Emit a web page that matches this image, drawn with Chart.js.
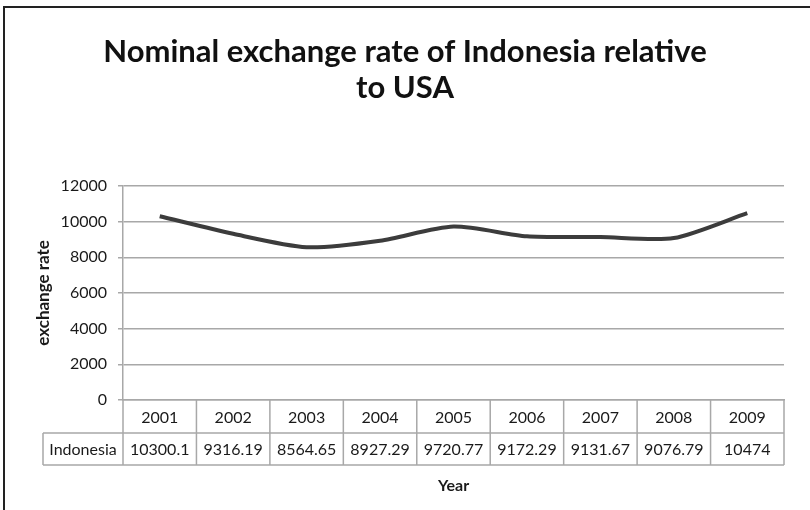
<!DOCTYPE html>
<html>
<head>
<meta charset="utf-8">
<script src="https://cdn.jsdelivr.net/npm/chart.js"></script>
<style>
  html, body { margin: 0; padding: 0; background: #fff; }
  canvas { display: block; }
</style>
</head>
<body>
<canvas id="chart_rate" width="810" height="510"></canvas>
<script>
// data
const years = ['2001', '2002', '2003', '2004', '2005', '2006', '2007', '2008', '2009'];
const seriesName = 'Indonesia';
const indonesia = [10300.1, 9316.19, 8564.65, 8927.29, 9720.77, 9172.29, 9131.67, 9076.79, 10474];
const yMin = 0;
const yMax = 12000;
const yStep = 2000;

const titleLines = ['Nominal exchange rate of Indonesia relative', 'to USA'];
const tickFont = { family: 'Lato', size: 16 };
const gridColor = '#a8a8a8';
const textColor = '#1a1a1a';

// white page with the dark frame on the left and top edge
const frame = {
  id: 'frame',
  beforeDraw(chart) {
    const ctx = chart.ctx;
    ctx.save();
    ctx.fillStyle = '#fff';
    ctx.fillRect(0, 0, chart.width, chart.height);
    ctx.strokeStyle = '#222';
    ctx.lineWidth = 2;
    ctx.beginPath();
    ctx.moveTo(4, chart.height);
    ctx.lineTo(4, 7);
    ctx.lineTo(chart.width, 7);
    ctx.stroke();
    ctx.restore();
  }
};

// Excel-style data table under the plot
const dataTable = {
  id: 'dataTable',
  afterDraw(chart) {
    const ctx = chart.ctx;
    const x = chart.scales.x;
    const area = chart.chartArea;
    const colW = (x.right - x.left) / years.length;
    const top = area.bottom;
    const row1 = top + 33;
    const row2 = row1 + 32;
    const labelLeft = 43;

    ctx.save();
    ctx.strokeStyle = gridColor;
    ctx.lineWidth = 1.5;
    ctx.beginPath();
    // horizontal rules
    ctx.moveTo(labelLeft, row1); ctx.lineTo(x.right, row1);
    ctx.moveTo(labelLeft, row2); ctx.lineTo(x.right, row2);
    // vertical rules
    ctx.moveTo(labelLeft, row1); ctx.lineTo(labelLeft, row2);
    for (let i = 0; i <= years.length; i++) {
      const px = x.left + i * colW;
      ctx.moveTo(px, top); ctx.lineTo(px, row2);
    }
    ctx.stroke();

    ctx.fillStyle = textColor;
    ctx.font = `${tickFont.size}px ${tickFont.family}`;
    ctx.textAlign = 'center';
    ctx.textBaseline = 'middle';
    const midY = (row1 + row2) / 2 + 1;
    ctx.fillText(seriesName, (labelLeft + x.left) / 2, midY);
    indonesia.forEach((v, i) => {
      ctx.fillText(String(v), x.getPixelForValue(i), midY);
    });
    ctx.restore();
  }
};

new Chart('chart_rate', {
  type: 'line',
  data: {
    labels: years,
    datasets: [{
      label: seriesName,
      data: indonesia,
      borderColor: '#3c3c3c',
      backgroundColor: '#3c3c3c',
      borderWidth: 4,
      pointRadius: 0,
      tension: 0.25,
      fill: false
    }]
  },
  options: {
    responsive: false,
    animation: false,
    devicePixelRatio: 1,
    layout: { padding: { left: 26, right: 26, top: 0, bottom: 0 } },
    plugins: {
      legend: { display: false },
      tooltip: { enabled: false },
      title: {
        display: true,
        text: titleLines,
        color: '#111',
        font: { family: 'Lato', size: 31, weight: 'bold', lineHeight: 1.16 },
        padding: { top: 34, bottom: 80 }
      }
    },
    scales: {
      x: {
        offset: true,
        grid: { display: false, drawTicks: false },
        border: { display: true, color: gridColor, width: 1.5 },
        ticks: { color: textColor, font: tickFont, padding: 8, maxRotation: 0 },
        title: {
          display: true,
          text: 'Year',
          color: textColor,
          font: { family: 'Lato', size: 16, weight: 'bold' },
          padding: { top: 40, bottom: 15 }
        },
        afterFit(scale) { scale.height = 110; }
      },
      y: {
        min: yMin,
        max: yMax,
        ticks: {
          stepSize: yStep,
          color: textColor,
          font: tickFont,
          padding: 11,
          callback: (v) => String(v)
        },
        grid: { color: gridColor, lineWidth: 1.5, tickLength: 5 },
        border: { color: gridColor, width: 1.5 },
        title: {
          display: true,
          text: 'exchange rate',
          color: textColor,
          font: { family: 'Lato', size: 17, weight: 'bold' },
          padding: { top: 7, bottom: 0 }
        },
        afterFit(scale) { scale.width = 97; }
      }
    }
  },
  plugins: [frame, dataTable]
});
</script>
</body>
</html>
